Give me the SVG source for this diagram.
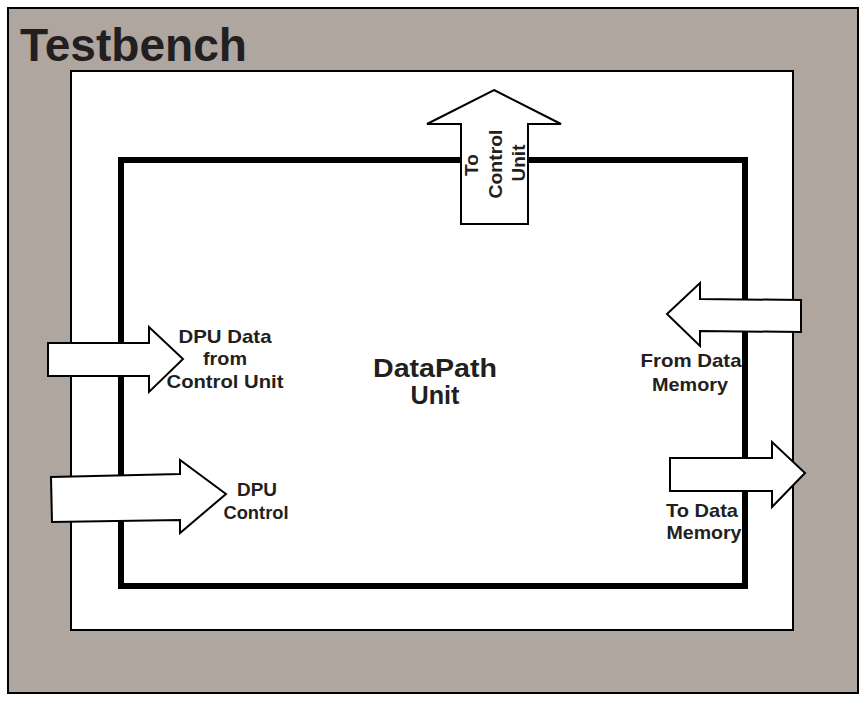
<svg xmlns="http://www.w3.org/2000/svg" width="868" height="703" viewBox="0 0 868 703">
<style>
.lbl{font-family:"Liberation Sans",Arial,sans-serif;font-weight:bold;fill:#231f20;text-anchor:middle}
.arrow{fill:#ffffff;stroke:#000000;stroke-width:2;stroke-linejoin:miter}
</style>
<rect x="0" y="0" width="868" height="703" fill="#ffffff"/>
<g id="testbench">
<rect x="8" y="8" width="850" height="685" fill="#aea69f" stroke="#000" stroke-width="2"/>
<text x="20" y="61" font-family="Liberation Sans,Arial,sans-serif" font-weight="bold" font-size="46" fill="#231f20" textLength="227" lengthAdjust="spacingAndGlyphs">Testbench</text>
</g>
<g id="inner-area">
<rect x="71" y="71" width="722" height="559" fill="#ffffff" stroke="#000" stroke-width="2"/>
</g>
<g id="datapath-unit">
<rect x="121" y="160" width="624" height="426" fill="#ffffff" stroke="#000" stroke-width="6"/>
<text class="lbl" font-size="25" x="435" y="377" textLength="124" lengthAdjust="spacingAndGlyphs">DataPath</text>
<text class="lbl" font-size="25" x="435" y="404" textLength="49" lengthAdjust="spacingAndGlyphs">Unit</text>
</g>
<g id="connectors">
<g id="to-control-unit">
<polygon class="arrow" points="494,90 561,124 528,124 528,224 461,224 461,124 427,124"/>
<text class="lbl" font-size="19" transform="translate(478,165) rotate(-90)">To</text>
<text class="lbl" font-size="19" transform="translate(502,164) rotate(-90)" textLength="69" lengthAdjust="spacingAndGlyphs">Control</text>
<text class="lbl" font-size="19" transform="translate(525,163) rotate(-90)">Unit</text>
</g>
<g id="dpu-data">
<polygon class="arrow" points="48,343 149,343 149,327 183,359 149,392 149,376 48,376"/>
<text class="lbl" font-size="19" x="225" y="343" textLength="93" lengthAdjust="spacingAndGlyphs">DPU Data</text>
<text class="lbl" font-size="19" x="225" y="365" textLength="44" lengthAdjust="spacingAndGlyphs">from</text>
<text class="lbl" font-size="19" x="225" y="388" textLength="117" lengthAdjust="spacingAndGlyphs">Control Unit</text>
</g>
<g id="dpu-control">
<polygon class="arrow" points="51,477 180,474 180,460 226,494 180,533 180,520 52,522"/>
<text class="lbl" font-size="19" x="257" y="496" textLength="40" lengthAdjust="spacingAndGlyphs">DPU</text>
<text class="lbl" font-size="19" x="256" y="519" textLength="65" lengthAdjust="spacingAndGlyphs">Control</text>
</g>
<g id="from-data-memory">
<polygon class="arrow" points="667,314 700,283 700,299 801,300 801,332 700,331 700,346"/>
<text class="lbl" font-size="19" x="691" y="367" textLength="101" lengthAdjust="spacingAndGlyphs">From Data</text>
<text class="lbl" font-size="19" x="690" y="391" textLength="76" lengthAdjust="spacingAndGlyphs">Memory</text>
</g>
<g id="to-data-memory">
<polygon class="arrow" points="670,458 772,458 772,442 805,473 772,507 772,491 670,491"/>
<text class="lbl" font-size="19" x="702" y="517" textLength="72" lengthAdjust="spacingAndGlyphs">To Data</text>
<text class="lbl" font-size="19" x="704" y="539" textLength="75" lengthAdjust="spacingAndGlyphs">Memory</text>
</g>
</g>
</svg>
